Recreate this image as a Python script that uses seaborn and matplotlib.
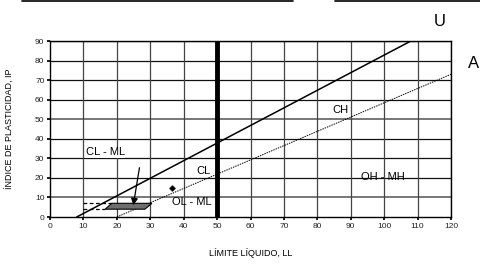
import matplotlib
matplotlib.use("Agg")
import matplotlib.pyplot as plt
import seaborn as sns
import pandas as pd
from matplotlib.patches import Polygon
from matplotlib.lines import Line2D

sns.set_theme(style="white")
plt.rcParams['font.family'] = ['Liberation Sans', 'DejaVu Sans']
plt.rcParams['text.color'] = 'black'

# Data
u_line_ll = [8, 108]
u_line_ip = [0, 90]
a_line_ll = [20, 120]
a_line_ip = [0, 73]
zone_ll = [16.5, 28.4, 30.5, 18.5]
zone_ip = [4, 4, 7, 7]
sample_ll = [36.5]
sample_ip = [15]
x_ticks = list(range(0, 121, 10))
y_ticks = list(range(0, 91, 10))

fig = plt.figure(figsize=(4.8, 2.64), dpi=100)
ax = fig.add_axes([50/480, 1-217/264, 401/480, 176/264])

# grid
for y in y_ticks[1:]:
    c = '#777777' if y in (10, 50) else '#111111'
    lw = 1.4 if y in (10, 50) else 0.9
    ax.axhline(y, color=c, lw=lw, zorder=0)
for x in x_ticks[1:]:
    ax.axvline(x, color='#444444', lw=0.9, zorder=0)

sns.lineplot(x=u_line_ll, y=u_line_ip, ax=ax, color='black', lw=1.1)
sns.lineplot(x=a_line_ll, y=a_line_ip, ax=ax, color='black', lw=0.7, linestyle=(0, (1.5, 1)))

ax.add_patch(Polygon(list(zip(zone_ll, zone_ip)), closed=True, facecolor='#6e6e6e', edgecolor='black', lw=0.8, zorder=3))
ax.plot([10, zone_ll[3]], [7, 7], color='black', lw=0.9, linestyle=(0, (3, 2)))
ax.plot([10, zone_ll[0]], [4, 4], color='black', lw=0.9, linestyle=(0, (3, 2)))

ax.axvline(50, color='black', lw=3.5, zorder=4)

sns.scatterplot(x=sample_ll, y=sample_ip, ax=ax, marker='D', color='black', s=14, zorder=5)

ax.annotate('', xy=(24.8, 4.6), xytext=(26.9, 26.6),
            arrowprops=dict(arrowstyle='-|>', color='black', lw=0.9, mutation_scale=10), zorder=6)

fs = 8
ax.text(86.8, 54.7, 'CH', fontsize=fs, ha='center', va='center')
ax.text(99.6, 20.4, 'OH - MH', fontsize=fs, ha='center', va='center')
ax.text(46, 23.5, 'CL', fontsize=fs, ha='center', va='center')
ax.text(42.5, 7.7, 'OL - ML', fontsize=fs, ha='center', va='center')
ax.text(16.5, 33, 'CL - ML', fontsize=fs, ha='center', va='center',
        bbox=dict(facecolor='white', edgecolor='none', pad=0.5))

ax.set_xlim(0, 120)
ax.set_ylim(0, 90)
ax.set_xticks(x_ticks)
ax.set_yticks(y_ticks)
ax.tick_params(axis='both', labelsize=6, length=2, pad=2, direction='out', colors='black', labelcolor='#222222')
ax.tick_params(axis='x', bottom=True)
ax.tick_params(axis='y', left=True)
for s in ax.spines.values():
    s.set_color('black')
    s.set_linewidth(1.0)
ax.set_xlabel('LÍMITE LÍQUIDO, LL', fontsize=6.5, labelpad=13, color='black')
ax.set_ylabel('ÍNDICE DE PLASTICIDAD, IP', fontsize=6.5, labelpad=15, color='black')

fig.text(440/480, 1-22/264, 'U', fontsize=12, ha='center', va='center')
fig.text(474/480, 1-64/264, 'A', fontsize=12, ha='center', va='center')
fig.add_artist(Line2D([22/480, 293/480], [1-0.8/264, 1-0.8/264], color='black', lw=1.2))
fig.add_artist(Line2D([335/480, 1.0], [1-0.8/264, 1-0.8/264], color='black', lw=1.2))

fig.savefig('out.png', dpi=100)
